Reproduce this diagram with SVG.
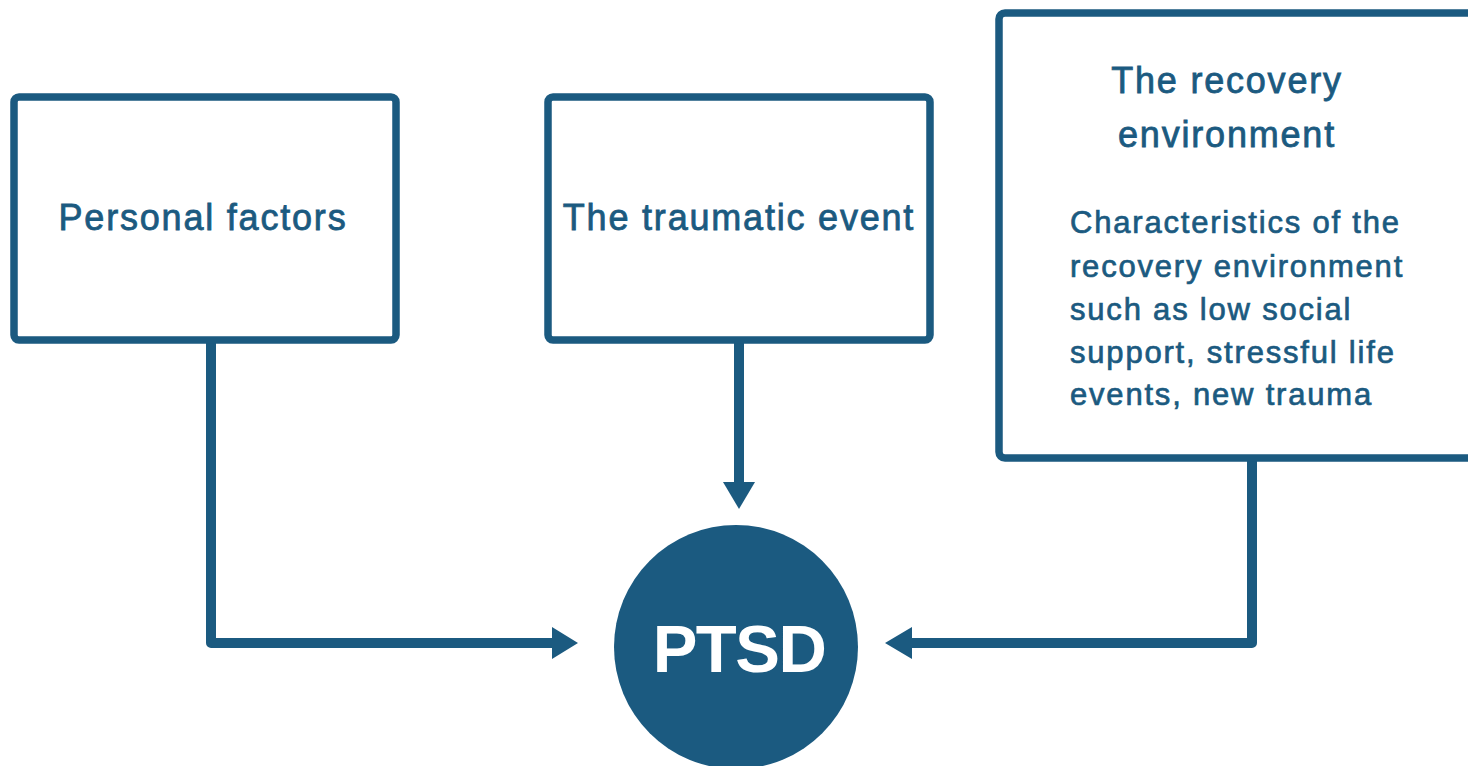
<svg xmlns="http://www.w3.org/2000/svg" width="1468" height="766" viewBox="0 0 1468 766">
<style>
.box{fill:#fff;stroke:#1b5a80;stroke-width:7.5}
.lbl{font-family:"Liberation Sans",Arial,sans-serif;font-size:36px;fill:#1b5a80;stroke:#1b5a80;stroke-width:0.8px;letter-spacing:1.8px}
.body{font-family:"Liberation Sans",Arial,sans-serif;font-size:31px;fill:#1b5a80;stroke:#1b5a80;stroke-width:0.7px;letter-spacing:1.8px}
.conn{fill:none;stroke:#1b5a80;stroke-width:10;stroke-linejoin:round}
.head{fill:#1b5a80}
</style>
<rect width="1468" height="766" fill="#fff"/>
<g id="connectors">
<path class="conn" d="M211,343 V643 H556"/>
<polygon class="head" points="552,627 578,643 552,659"/>
<path class="conn" d="M739,343 V484"/>
<polygon class="head" points="723,482 739,509 755,482"/>
<path class="conn" d="M1252,458 V643 H909"/>
<polygon class="head" points="912,627 885,643 912,659"/>
</g>
<g id="personal">
<rect class="box" x="14" y="97" width="382" height="243" rx="5"/>
<text class="lbl" x="203" y="230" text-anchor="middle">Personal factors</text>
</g>
<g id="event">
<rect class="box" x="548" y="97" width="382" height="243" rx="5"/>
<text class="lbl" x="739" y="230" text-anchor="middle">The traumatic event</text>
</g>
<g id="recovery">
<rect class="box" x="999" y="13" width="500" height="445" rx="6"/>
<text class="lbl" x="1227" y="93" text-anchor="middle">The recovery</text>
<text class="lbl" x="1227" y="147" text-anchor="middle">environment</text>
<text class="body" x="1070" y="233">Characteristics of the</text>
<text class="body" x="1070" y="277">recovery environment</text>
<text class="body" x="1070" y="320">such as low social</text>
<text class="body" x="1070" y="363">support, stressful life</text>
<text class="body" x="1070" y="405">events, new trauma</text>
</g>
<g id="ptsd">
<circle cx="736" cy="647" r="122" fill="#1b5a80"/>
<text x="739" y="672" text-anchor="middle" font-family="Liberation Sans,Arial,sans-serif" font-size="67" font-weight="bold" fill="#fff" letter-spacing="-1.5">PTSD</text>
</g>
</svg>
